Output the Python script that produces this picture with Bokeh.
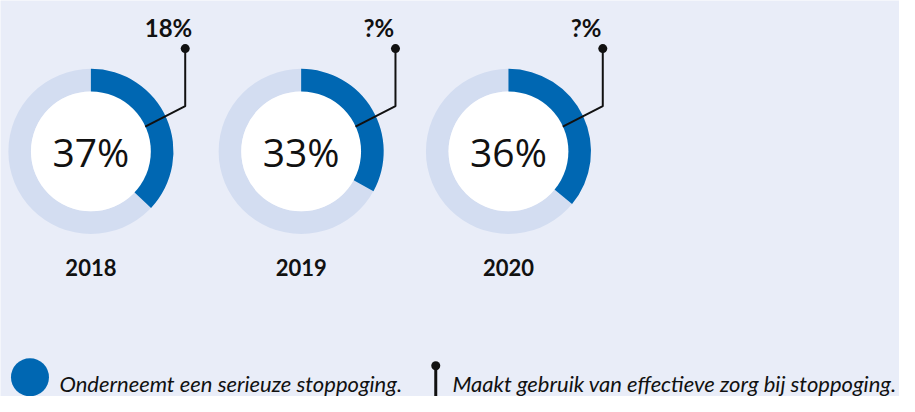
import math
from bokeh.plotting import figure
from bokeh.models import Range1d, ColumnDataSource
from bokeh.embed import file_html
from bokeh.resources import INLINE
from bokeh.core.properties import value

# ---- data ----
years = ["2018", "2019", "2020"]
serious_attempt_pct = [37, 33, 36]          # Onderneemt een serieuze stoppoging
effective_care_labels = ["18%", "?%", "?%"] # Maakt gebruik van effectieve zorg bij stoppoging
legend_labels = ["Onderneemt een serieuze stoppoging.",
                 "Maakt gebruik van effectieve zorg bij stoppoging."]

# ---- style / layout ----
BG = "#e9edf8"
BLUE = "#0067b2"
LIGHT = "#d3ddf1"
INK = "#111111"
FONT = value("Lato")
FONT_C = value("Open Sans")

W, H = 899, 396
p = figure(width=W, height=H, x_range=Range1d(0, 915), y_range=Range1d(0, 412),
           output_backend="svg", toolbar_location=None, min_border=0)
p.axis.visible = False
p.grid.visible = False
p.outline_line_color = None
p.background_fill_color = BG
p.border_fill_color = BG


def Y(ref):
    return 412 - ref


cx = [92, 306, 517]
cy = [Y(157)] * 3
R_OUT, R_IN = 84, 61

src = ColumnDataSource(dict(
    x=cx, y=cy,
    start=[math.pi / 2] * 3,
    end=[math.pi / 2 - 2 * math.pi * v / 100 for v in serious_attempt_pct],
    center_label=[f"{v}%" for v in serious_attempt_pct],
    year=years,
    year_y=[Y(278)] * 3,
))

p.annulus(x="x", y="y", inner_radius=R_IN, outer_radius=R_OUT, source=src,
          fill_color=LIGHT, line_color=None)
p.annular_wedge(x="x", y="y", inner_radius=R_IN - 1, outer_radius=R_OUT,
                start_angle="start", end_angle="end", direction="clock",
                source=src, fill_color=BLUE, line_color=None)
p.circle(x="x", y="y", radius=R_IN, source=src, fill_color="white", line_color=None)

p.text(x="x", y="y", text="center_label", source=src, text_align="center",
       text_baseline="middle", text_font_size="39px", text_font=FONT_C,
       text_color=INK)

# leader lines to secondary value
ang = math.radians(25)
xs, ys, dx, dy, lx, ly = [], [], [], [], [], []
for x0, y0 in zip(cx, cy):
    vx = x0 + 96
    xs.append([x0 + R_IN * math.cos(ang), vx, vx])
    ys.append([y0 + R_IN * math.sin(ang), y0 + 47, Y(50)])
    dx.append(vx)
    dy.append(Y(50))
    lx.append(vx - 17)
    ly.append(Y(28))

p.multi_line(xs=xs, ys=ys, line_color=INK, line_width=2)
p.scatter(x=dx, y=dy, size=9, marker="circle", fill_color=INK, line_color=None)
p.text(x=lx, y=ly, text=effective_care_labels, text_align="center",
       text_baseline="middle", text_font_size="24px", text_font_style="bold",
       text_font=FONT, text_color=INK)

# year labels
p.text(x="x", y="year_y", text="year", source=src, text_align="center",
       text_baseline="middle", text_font_size="22px", text_font_style="bold",
       text_font=FONT, text_color=INK)

# legend
p.scatter(x=[30], y=[Y(392)], size=38, marker="circle", fill_color=BLUE, line_color=None)
p.text(x=[60], y=[Y(398)], text=[legend_labels[0]], text_align="left",
       text_baseline="alphabetic", text_font_size="22px", text_font_style="italic",
       text_font=FONT, text_color=INK)
p.segment(x0=[443], y0=[Y(380)], x1=[443], y1=[Y(420)], line_color=INK, line_width=3)
p.scatter(x=[443], y=[Y(380)], size=9, marker="circle", fill_color=INK, line_color=None)
p.text(x=[460], y=[Y(398)], text=[legend_labels[1]], text_align="left",
       text_baseline="alphabetic", text_font_size="22px", text_font_style="italic",
       text_font=FONT, text_color=INK)

open("out.html", "w").write(file_html(p, INLINE))
